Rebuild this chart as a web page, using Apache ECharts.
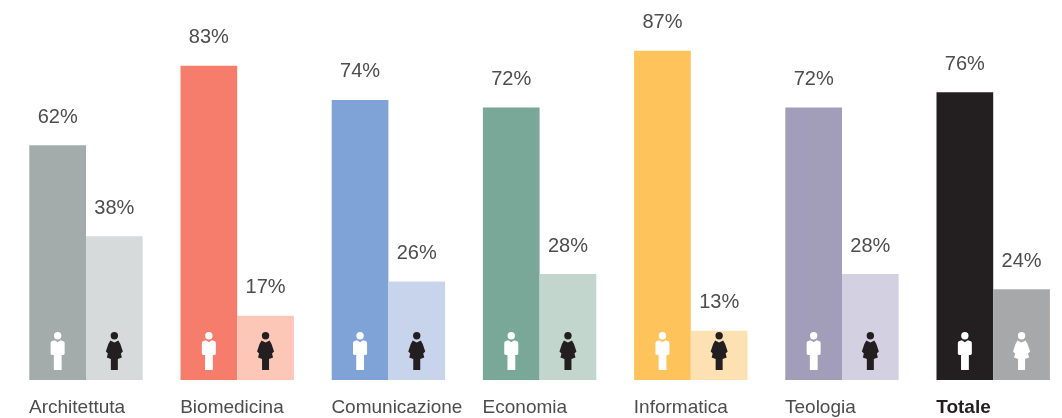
<!DOCTYPE html>
<html><head><meta charset="utf-8">
<style>html,body{margin:0;padding:0;background:#fff;overflow:hidden;width:1062px;height:418px}#c{width:1090px;height:418px}</style>
<script src="https://cdn.jsdelivr.net/npm/echarts@6/dist/echarts.min.js"></script>
</head><body><div id="c"></div>
<script>
const categories=['Architettuta','Biomedicina','Comunicazione','Economia','Informatica','Teologia','Totale'];
const men=[62,83,74,72,87,72,76];
const women=[38,17,26,28,13,28,24];
const menColors=['#a3acaa','#f67c6b','#7fa3d7','#79a898','#fec35b','#a29db9','#231f20'];
const womenColors=['#d6dadb','#fdc7b8','#c7d4eb','#c2d6ce','#fee1b3','#d3d1e1','#a7a8aa'];
const manIconColors=['#fff','#fff','#fff','#fff','#fff','#fff','#fff'];
const womanIconColors=['#231f20','#231f20','#231f20','#231f20','#231f20','#231f20','#fff'];
const manPath='path://M7 0a3.7 3.7 0 1 1 0 7.4a3.7 3.7 0 1 1 0-7.4zM1 9.2L4 8.2L7 10.2L10 8.2L13 9.2Q14 9.8 14 11V21.5Q14 23 11 23V38H3.2V23Q0 23 0 21.5V11Q0 9.8 1 9.2z';
const womanPath='path://M8.5 0a3.7 3.7 0 1 1 0 7.4a3.7 3.7 0 1 1 0-7.4zM4.5 8.5L8.5 10.5L12.5 8.5L14.5 12L17 19.5L15 21.5L16 25.5L12 27V38H5V27L1 25.5L2 21.5L0 19.5L2.5 12z';
const chart=echarts.init(document.getElementById('c'),null,{renderer:'canvas'});
const lab={show:true,position:'top',distance:18,formatter:'{c}%',fontFamily:'Liberation Sans',fontSize:20,color:'#4d4d4f'};
chart.setOption({
 animation:false,
 grid:{left:10.4,top:1.5,width:1058.4,height:378.5},
 xAxis:{type:'category',data:categories,axisLine:{show:false},axisTick:{show:false},
  axisLabel:{interval:0,margin:18,
   formatter:v=>v==='Totale'?`{b|${v}}`:`{a|${v}}`,
   rich:{a:{width:114,align:'left',fontFamily:'Liberation Sans',fontSize:19,color:'#4d4d4f'},
         b:{width:114,align:'left',fontFamily:'Liberation Sans',fontSize:19,fontWeight:'bold',color:'#231f20'}}}},
 yAxis:{type:'value',min:0,max:100,show:false},
 series:[
  {type:'bar',barWidth:56.7,barGap:0,label:lab,data:men.map((v,i)=>({value:v,itemStyle:{color:menColors[i]}}))},
  {type:'bar',barWidth:56.7,barGap:0,label:lab,data:women.map((v,i)=>({value:v,itemStyle:{color:womenColors[i]}}))},
  {type:'pictorialBar',barWidth:56.7,barGap:0,symbol:manPath,symbolSize:[14,38],symbolPosition:'start',symbolOffset:[0,-10],z:5,
   data:men.map((v,i)=>({value:v,itemStyle:{color:manIconColors[i]}}))},
  {type:'pictorialBar',barWidth:56.7,barGap:0,symbol:womanPath,symbolSize:[17,38],symbolPosition:'start',symbolOffset:[0,-10],z:5,
   data:women.map((v,i)=>({value:v,itemStyle:{color:womanIconColors[i]}}))}
 ]
});
</script></body></html>
